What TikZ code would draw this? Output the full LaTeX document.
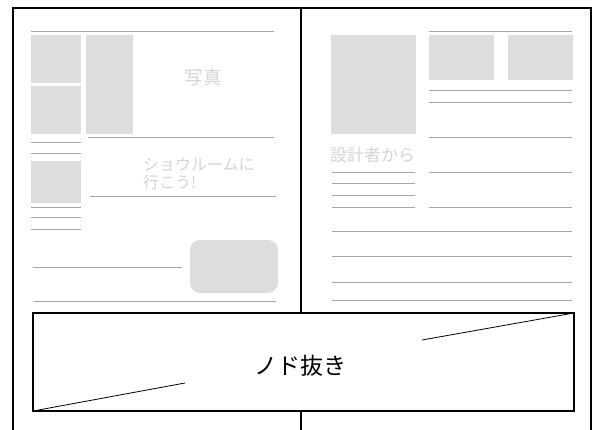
\documentclass[tikz,border=0pt]{standalone}
\usepackage{fontspec}
\newfontfamily\jpfont{Noto Sans CJK JP}
\usepackage{tikz}
\definecolor{photogray}{HTML}{DCDDDD}
\definecolor{rulegray}{HTML}{A6A6A6}
\definecolor{textgray}{HTML}{D4D4D4}
\tikzset{
  font={\jpfont\fontsize{16pt}{18pt}\selectfont},
  frame/.style={black, line width=1.6pt},
  rule/.style={rulegray, line width=0.9pt},
  photo/.style={fill=photogray},
  caption/.style={textgray}}

\begin{document}
\begin{tikzpicture}[x=1pt,y=1pt]
\tikzstyle{every node}+=[inner sep=0pt]
\useasboundingbox (0,0) rectangle (593,-430);
% page frame and gutter
\draw [frame] (13,-430) -- (13,-8) -- (591,-8) -- (591,-430);
\draw [frame] (301,-8) -- (301,-333);
\draw [frame] (301,-398) -- (301,-430);
% left page
\draw [rule] (31,-31) -- (274,-31);
\fill [photo] (31,-35) rectangle (81,-83);
\fill [photo] (31,-86) rectangle (81,-134);
\fill [photo] (86,-35) rectangle (133,-134);
\node [caption, font={\jpfont\fontsize{18.5pt}{20pt}\selectfont}] (photo) at (203,-77) {写真};
\draw [rule] (88,-137) -- (274,-137);
\draw [rule] (31,-142) -- (81,-142);
\draw [rule] (31,-153) -- (81,-153);
\fill [photo] (31,-161) rectangle (81,-203);
\node [caption, anchor=north west, align=left] (showroom) at (143,-157) {ショウルームに\\行こう!};
\draw [rule] (90,-196) -- (276,-196);
\draw [rule] (31,-207) -- (81,-207);
\draw [rule] (31,-217) -- (81,-217);
\draw [rule] (31,-229) -- (81,-229);
\draw [rule] (33,-267) -- (182,-267);
\fill [photo, rounded corners=10pt] (190,-240) rectangle (278,-293);
\draw [rule] (34,-301) -- (276,-301);
% right page
\fill [photo] (331,-35) rectangle (416,-134);
\draw [rule] (429,-31) -- (572,-31);
\fill [photo] (429,-35) rectangle (494,-80);
\fill [photo] (508,-35) rectangle (573,-80);
\draw [rule] (429,-90) -- (572,-90);
\draw [rule] (429,-102) -- (572,-102);
\draw [rule] (429,-137) -- (572,-137);
\node [caption, anchor=west, font={\jpfont\fontsize{17pt}{20pt}\selectfont}] (designer) at (330,-155) {設計者から};
\draw [rule] (332,-172) -- (415,-172);
\draw [rule] (332,-183) -- (415,-183);
\draw [rule] (332,-195) -- (415,-195);
\draw [rule] (332,-207) -- (415,-207);
\draw [rule] (429,-172) -- (572,-172);
\draw [rule] (429,-207) -- (572,-207);
\draw [rule] (332,-231) -- (572,-231);
\draw [rule] (332,-256) -- (572,-256);
\draw [rule] (332,-282) -- (572,-282);
\draw [rule] (332,-300) -- (572,-300);
% gutter margin box
\draw [frame, fill=white] (33,-313) rectangle (574,-411);
\draw [black, line width=0.8pt] (33,-411) -- (185,-383);
\draw [black, line width=0.8pt] (574,-313) -- (422,-340);
\node [font={\jpfont\fontsize{23pt}{26pt}\selectfont}] (gutter) at (300,-366) {ノド抜き};
\end{tikzpicture}
\end{document}
